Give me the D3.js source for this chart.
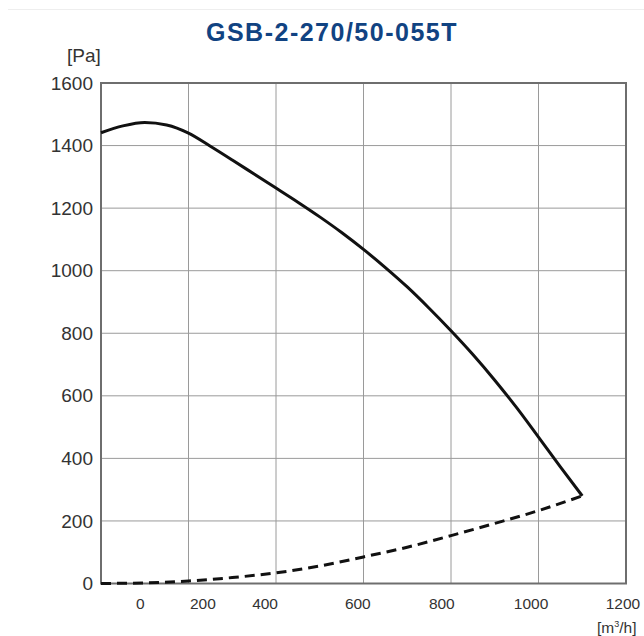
<!DOCTYPE html>
<html>
<head>
<meta charset="utf-8">
<script src="https://cdn.jsdelivr.net/npm/d3@7"></script>
<style>
  body { margin: 0; background: #fff; }
  svg { display: block; }
</style>
</head>
<body>
<svg id="grafico"></svg>
<script>
// dados
let titulo = 'GSB-2-270/50-055T';
let xTicks = [0, 200, 400, 600, 800, 1000, 1200];
// onde os rótulos do eixo x aparecem (em m3/h), o original não os centra nas linhas
let xRotuloEm = [90, 233, 375, 587, 779, 983, 1193];
let yTicks = [0, 200, 400, 600, 800, 1000, 1200, 1400, 1600];

let curvaVazao = [0, 50, 100, 150, 200, 250, 300, 350, 400, 450, 500, 550, 600, 650, 700, 750, 800, 850, 900, 950, 1000, 1050, 1100];
let curvaPressao = [1441, 1463, 1474, 1466, 1440, 1398, 1354, 1309, 1264, 1219, 1172, 1122, 1068, 1010, 948, 880, 808, 732, 650, 562, 468, 373, 280];

let sistemaVazao = [0, 100, 200, 300, 400, 500, 600, 700, 800, 900, 1000, 1100];
let sistemaPressao = [0, 2, 8, 19, 34, 56, 85, 116, 153, 192, 233, 280];

let largura = 644, altura = 636;
let svg = d3.select('#grafico')
    .attr('width', largura)
    .attr('height', altura);

let fnX = d3.scaleLinear().domain([0, 1200]).range([101, 626]);
let fnY = d3.scaleLinear().domain([0, 1600]).range([583.5, 83]);

// linha clara no topo
svg.append('line')
    .attr('x1', 8).attr('x2', largura)
    .attr('y1', 9.5).attr('y2', 9.5)
    .attr('stroke', '#eeeeee').attr('stroke-width', 1);

svg.append('text')
    .attr('x', 332).attr('y', 40.7)
    .attr('text-anchor', 'middle')
    .attr('font-family', 'Liberation Sans, Arial, sans-serif')
    .attr('font-weight', 'bold')
    .attr('font-size', 25)
    .attr('letter-spacing', 1.5)
    .attr('fill', '#114382')
    .text(titulo);

// grade
let grade = svg.append('g');
grade.selectAll('.gx')
    .data(xTicks.slice(1, -1))
    .enter().append('line')
    .attr('x1', d => fnX(d)).attr('x2', d => fnX(d))
    .attr('y1', fnY(0)).attr('y2', fnY(1600))
    .attr('stroke', '#9a9a9a').attr('stroke-width', 1);
grade.selectAll('.gy')
    .data(yTicks.slice(1, -1))
    .enter().append('line')
    .attr('x1', fnX(0)).attr('x2', fnX(1200))
    .attr('y1', d => fnY(d)).attr('y2', d => fnY(d))
    .attr('stroke', '#9a9a9a').attr('stroke-width', 1);

grade.append('rect')
    .attr('x', fnX(0)).attr('y', fnY(1600))
    .attr('width', fnX(1200) - fnX(0))
    .attr('height', fnY(0) - fnY(1600))
    .attr('fill', 'none')
    .attr('stroke', '#6e6e6e').attr('stroke-width', 2);

// eixo y
let eixoY = d3.axisLeft(fnY).tickValues(yTicks).tickFormat(d3.format('d')).tickSize(0).tickPadding(8);
svg.append('g')
    .attr('transform', 'translate(' + fnX(0) + ',0)')
    .call(eixoY)
    .call(g => g.select('.domain').remove())
    .selectAll('text')
    .attr('font-family', 'Liberation Sans, Arial, sans-serif')
    .attr('font-size', 19)
    .attr('fill', '#333');

// eixo x: rótulos deslocados como no original
svg.selectAll('.rotuloX')
    .data(xTicks)
    .enter().append('text')
    .classed('rotuloX', true)
    .attr('x', (d, i) => fnX(xRotuloEm[i]))
    .attr('y', 609.3)
    .attr('text-anchor', 'middle')
    .attr('font-family', 'Liberation Sans, Arial, sans-serif')
    .attr('font-size', 15.5)
    .attr('fill', '#333')
    .text(d => d);

svg.append('text')
    .attr('x', 67).attr('y', 62)
    .attr('font-family', 'Liberation Sans, Arial, sans-serif')
    .attr('font-size', 19)
    .attr('fill', '#333')
    .text('[Pa]');

let unidadeX = svg.append('text')
    .attr('x', 597).attr('y', 633)
    .attr('font-family', 'Liberation Sans, Arial, sans-serif')
    .attr('font-size', 15.5)
    .attr('fill', '#333');
unidadeX.append('tspan').text('[m');
unidadeX.append('tspan').attr('font-size', 9).attr('dy', -6).text('3');
unidadeX.append('tspan').attr('dy', 6).text('/h]');

// curvas
let linha = d3.line()
    .x(d => fnX(d[0]))
    .y(d => fnY(d[1]))
    .curve(d3.curveMonotoneX);

svg.append('path')
    .datum(sistemaVazao.map((v, i) => [v, sistemaPressao[i]]))
    .attr('d', linha)
    .attr('fill', 'none')
    .attr('stroke', '#111')
    .attr('stroke-width', 3)
    .attr('stroke-dasharray', '10,6');

svg.append('path')
    .datum(curvaVazao.map((v, i) => [v, curvaPressao[i]]))
    .attr('d', linha)
    .attr('fill', 'none')
    .attr('stroke', '#111')
    .attr('stroke-width', 3)
    .attr('stroke-linejoin', 'round');
</script>
</body>
</html>
